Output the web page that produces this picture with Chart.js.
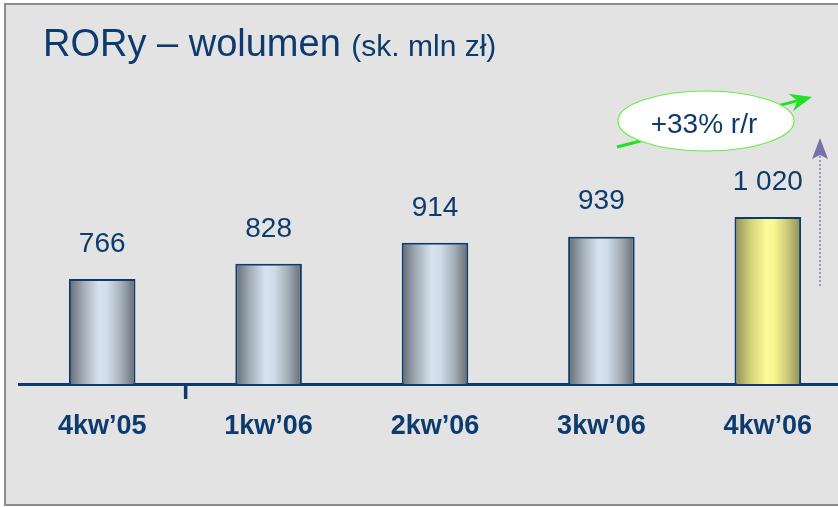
<!DOCTYPE html>
<html>
<head>
<meta charset="utf-8">
<script src="https://cdn.jsdelivr.net/npm/chart.js@4/dist/chart.umd.min.js"></script>
<style>
  html, body { margin: 0; padding: 0; background: #ffffff; overflow: hidden; }
  #wrap { position: absolute; left: 0; top: 0; width: 838px; height: 507px; overflow: hidden; }
</style>
</head>
<body>
<div id="wrap"><canvas id="c" width="860" height="507"></canvas></div>
<script>
const categories = ["4kw\u201905", "1kw\u201906", "2kw\u201906", "3kw\u201906", "4kw\u201906"];
const values = [766, 828, 914, 939, 1020];
const valueLabels = ["766", "828", "914", "939", "1 020"];
const highlightIndex = 4;
const titleMain = "RORy \u2013 wolumen";
const titleUnit = "(sk. mln z\u0142)";
const growthLabel = "+33% r/r";

const NAVY = "#0d3b6e";
const FONT = "'Liberation Sans', Arial, sans-serif";
const BAR_PCT = 0.4;

function barGradient(ctx, x0, x1, highlight) {
  const g = ctx.createLinearGradient(x0, 0, x1, 0);
  if (highlight) {
    g.addColorStop(0, "#8f8d55");
    g.addColorStop(0.25, "#d4d37c");
    g.addColorStop(0.48, "#fbfb98");
    g.addColorStop(0.6, "#f6f692");
    g.addColorStop(0.8, "#c9c878");
    g.addColorStop(1, "#8d8b57");
  } else {
    g.addColorStop(0, "#646a72");
    g.addColorStop(0.22, "#a3adb8");
    g.addColorStop(0.45, "#d6e3ee");
    g.addColorStop(0.58, "#d0dde8");
    g.addColorStop(0.8, "#a2acb5");
    g.addColorStop(1, "#646970");
  }
  return g;
}

function barFill(context) {
  const chart = context.chart;
  const area = chart.chartArea;
  const xs = chart.scales && chart.scales.x;
  if (!area || !xs) return "#b0bcc8";
  const cx = xs.getPixelForValue(context.dataIndex);
  const hw = (area.right - area.left) / categories.length * BAR_PCT / 2;
  return barGradient(chart.ctx, cx - hw, cx + hw, context.dataIndex === highlightIndex);
}

const decor = {
  id: "decor",
  beforeDraw(chart) {
    const ctx = chart.ctx;
    ctx.save();
    ctx.fillStyle = "#ffffff";
    ctx.fillRect(0, 0, chart.width, chart.height);
    ctx.fillStyle = "#e3e3e3";
    ctx.fillRect(5, 4, chart.width + 10, 501);
    ctx.strokeStyle = "#8c8c8c";
    ctx.lineWidth = 2;
    ctx.strokeRect(5, 4, chart.width + 10, 501);
    ctx.restore();
  },
  afterDraw(chart) {
    const ctx = chart.ctx;
    const xs = chart.scales.x;
    const area = chart.chartArea;
    ctx.save();
    // title
    ctx.fillStyle = NAVY;
    ctx.textBaseline = "alphabetic";
    ctx.textAlign = "left";
    ctx.font = "38px " + FONT;
    ctx.fillText(titleMain, 43, 56);
    const w = ctx.measureText(titleMain + " ").width;
    ctx.font = "30px " + FONT;
    ctx.fillText(titleUnit, 43 + w, 56);

    // value labels
    const meta = chart.getDatasetMeta(0);
    ctx.font = "28px " + FONT;
    ctx.textAlign = "center";
    ctx.textBaseline = "middle";
    meta.data.forEach((el, i) => {
      ctx.fillText(valueLabels[i], el.x, el.y - 35);
    });

    // tick mark between first two categories
    const tx = (xs.getPixelForValue(0) + xs.getPixelForValue(1)) / 2;
    ctx.fillStyle = NAVY;
    ctx.fillRect(tx - 1.5, area.bottom, 3.5, 15);

    // green arrow line
    const gx0 = 617, gy0 = 147, gx1 = 812, gy1 = 97;
    ctx.strokeStyle = "#22e022";
    ctx.lineWidth = 3;
    ctx.beginPath();
    ctx.moveTo(gx0, gy0);
    ctx.lineTo(gx1 - 14, gy1 + 3.6);
    ctx.stroke();
    const ang = Math.atan2(gy1 - gy0, gx1 - gx0);
    ctx.fillStyle = "#22e022";
    ctx.save();
    ctx.translate(gx1, gy1);
    ctx.rotate(ang);
    ctx.beginPath();
    ctx.moveTo(0, 0);
    ctx.lineTo(-22, -9);
    ctx.lineTo(-15, 0);
    ctx.lineTo(-22, 9);
    ctx.closePath();
    ctx.fill();
    ctx.restore();

    // ellipse
    ctx.beginPath();
    ctx.ellipse(706, 121, 88, 30, 0, 0, Math.PI * 2);
    ctx.fillStyle = "#ffffff";
    ctx.fill();
    ctx.strokeStyle = "#66ee44";
    ctx.lineWidth = 1.2;
    ctx.stroke();
    ctx.fillStyle = NAVY;
    ctx.font = "28px " + FONT;
    ctx.textAlign = "center";
    ctx.textBaseline = "middle";
    ctx.fillText(growthLabel, 704, 125);

    // dotted arrow
    ctx.strokeStyle = "#8886ad";
    ctx.lineWidth = 1.6;
    ctx.setLineDash([2, 2]);
    ctx.beginPath();
    ctx.moveTo(820, 286);
    ctx.lineTo(820, 156);
    ctx.stroke();
    ctx.setLineDash([]);
    ctx.fillStyle = "#7472a6";
    ctx.beginPath();
    ctx.moveTo(820, 138);
    ctx.lineTo(828, 159);
    ctx.lineTo(820, 155);
    ctx.lineTo(812, 159);
    ctx.closePath();
    ctx.fill();
    ctx.restore();
  }
};

new Chart(document.getElementById("c"), {
  type: "bar",
  data: {
    labels: categories,
    datasets: [{
      data: values,
      backgroundColor: barFill,
      borderColor: NAVY,
      borderWidth: 2,
      borderSkipped: false,
      categoryPercentage: 1,
      barPercentage: BAR_PCT
    }]
  },
  options: {
    responsive: false,
    animation: false,
    events: [],
    layout: { padding: { left: 19, right: 9, top: 100, bottom: 0 } },
    plugins: { legend: { display: false }, tooltip: { enabled: false }, title: { display: false } },
    scales: {
      x: {
        grid: { display: false, drawTicks: false },
        border: { display: true, color: NAVY, width: 3 },
        ticks: {
          color: NAVY,
          font: { family: FONT, size: 27, weight: "bold" },
          padding: 26,
          maxRotation: 0,
          autoSkip: false
        },
        afterFit(scale) { scale.height = 123; }
      },
      y: {
        display: false,
        min: 335,
        max: 1500
      }
    }
  },
  plugins: [decor]
});
</script>
</body>
</html>
